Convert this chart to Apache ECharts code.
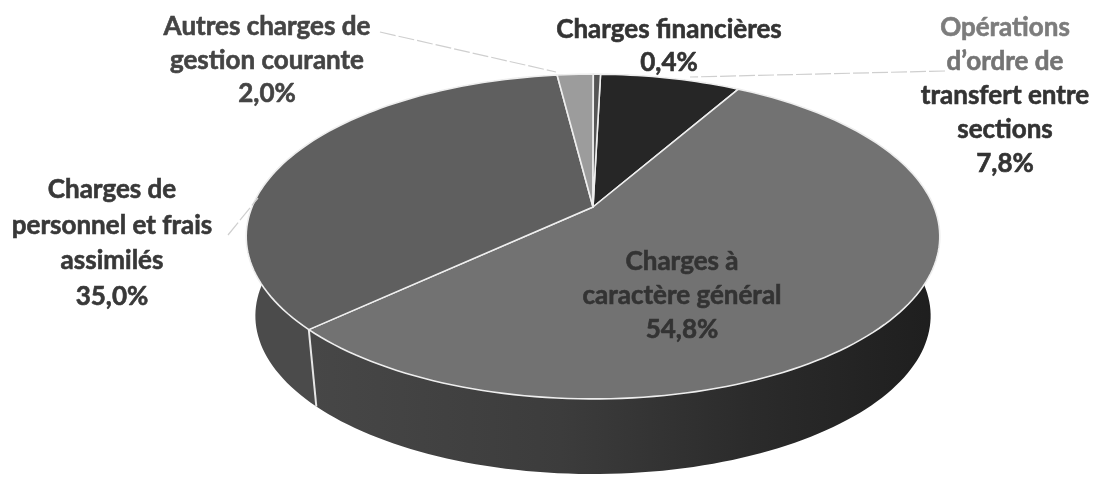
<!DOCTYPE html>
<html><head><meta charset="utf-8">
<style>html,body{margin:0;padding:0;background:#fff}#c{width:1093px;height:477px;filter:blur(0.45px)}</style>
<script src="https://cdn.jsdelivr.net/npm/echarts@6/dist/echarts.min.js"></script>
</head><body><div id="c"></div>
<script>
var categories = ["Opérations d'ordre de transfert entre sections","Charges à caractère général","Charges de personnel et frais assimilés","Autres charges de gestion courante","Charges financières"];
var values = [7.8,54.8,35.0,2.0,0.4];
var topColors = ["#262626","#727272","#5f5f5f","#9c9c9c","#555555"];
var sideColors = ["#1c1c1c","#3c3c3c","#4b4b4b","#6a6a6a","#3a3a3a"];

var geo = {cx:593, cy:207, rx:341, ry:157, k:0.182, depth:80, rxBottom:332, ryBottom:153, start:1.5};
var labelLayout = [
  {x:1005, y:28,  lh:34, lines:[["Opérations","#7c7c7c"],["d’ordre de","#747474"],["transfert entre","#333333"],["sections","#333333"],["7,8%","#333333"]]},
  {x:682,  y:262, lh:34, lines:[["Charges à","#333333"],["caractère général","#333333"],["54,8%","#333333"]]},
  {x:112,  y:190, lh:35.5, lines:[["Charges de","#383838"],["personnel et frais","#383838"],["assimilés","#383838"],["35,0%","#383838"]]},
  {x:267,  y:27,  lh:33.5, lines:[["Autres charges de","#444444"],["gestion courante","#444444"],["2,0%","#444444"]]},
  {x:669,  y:30,  lh:33, lines:[["Charges financières","#333333"],["0,4%","#333333"]]}
];
var leaders = [
  {from:[945,71], to:[690,77]},
  null,
  {from:[228,235], to:[258,198]},
  {from:[380,32], to:[556,72]},
  null
];

function project(deg, rx, ry, dy){
  var t = deg*Math.PI/180, u = Math.sin(t), v = Math.cos(t), d = 1+geo.k*v;
  return [geo.cx+rx*u/d, geo.cy-ry*v/d+dy];
}
function arc(a,b,rx,ry,dy){
  var pts=[], n=Math.max(2,Math.ceil(Math.abs(b-a)/1.5));
  for(var i=0;i<=n;i++) pts.push(project(a+(b-a)*i/n,rx,ry,dy));
  return pts;
}
var total = values.reduce(function(s,x){return s+x},0);
var bounds=[geo.start];
values.forEach(function(x){bounds.push(bounds[bounds.length-1]+x/total*360)});

var sideEls=[], topEls=[], lineEls=[], textEls=[];
var fill=function(i){
  if(i!==1) return sideColors[i];
  return new echarts.graphic.LinearGradient(0,0,1,0,[
    {offset:0,color:"#474747"},{offset:0.4,color:"#3c3c3c"},{offset:0.7,color:"#2b2b2b"},{offset:1,color:"#1e1e1e"}]);
};
[1,2,0,3,4].forEach(function(i){
  var a=bounds[i], b=bounds[i+1];
  var top=arc(a,b,geo.rx,geo.ry,0), bot=arc(a,b,geo.rxBottom,geo.ryBottom,geo.depth).reverse();
  sideEls.push({type:'polygon',shape:{points:top.concat(bot)},style:{fill:fill(i),stroke:null}});
});
var j=project(bounds[2],geo.rx,geo.ry,0), jb=project(bounds[2],geo.rxBottom,geo.ryBottom,geo.depth);
var junction={type:'line',shape:{x1:j[0],y1:j[1],x2:jb[0],y2:jb[1]},style:{stroke:"#e6e6e6",lineWidth:2}};
values.forEach(function(x,i){
  var pts=[[geo.cx,geo.cy]].concat(arc(bounds[i],bounds[i+1],geo.rx,geo.ry,0));
  topEls.push({type:'polygon',shape:{points:pts},style:{fill:topColors[i],stroke:"#eeeeee",lineWidth:1.6,lineJoin:'round'}});
  if(leaders[i]){
    lineEls.push({type:'line',shape:{x1:leaders[i].from[0],y1:leaders[i].from[1],x2:leaders[i].to[0],y2:leaders[i].to[1]},
      style:{stroke:"#cfcfcf",lineWidth:1.2,lineDash:[16,3]}});
  }
  var L=labelLayout[i];
  L.lines.forEach(function(l,n){
    textEls.push({type:'text',style:{x:L.x,y:L.y+n*L.lh,text:l[0],fill:l[1],stroke:l[1],lineWidth:0.6,align:'center',verticalAlign:'middle',
      font:'bold 26px Lato, "Open Sans", sans-serif'},z2:10});
  });
});

var chart=echarts.init(document.getElementById('c'),null,{renderer:'canvas'});
chart.setOption({
  animation:false,
  backgroundColor:'#ffffff',
  series:[{
    type:'custom',
    coordinateSystem:'none',
    data:categories.map(function(c,i){return {name:c,value:values[i]}}),
    renderItem:function(p,api){
      if(p.dataIndex!==0) return {type:'group',children:[]};
      return {type:'group',children:sideEls.concat([junction]).concat(topEls).concat(lineEls).concat(textEls)};
    }
  }]
});
</script></body></html>
